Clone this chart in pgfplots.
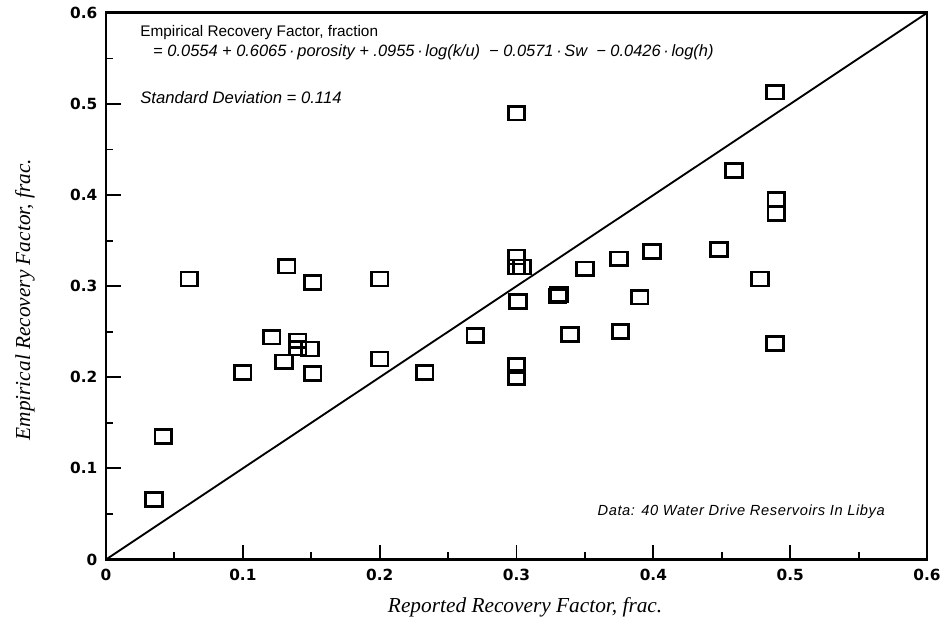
\documentclass[border=0pt]{standalone}
\usepackage{fontspec}
\setmainfont{Liberation Sans}
\newfontfamily\tickfont{DejaVu Sans}[BoldFont={DejaVu Sans Bold}]
\newfontfamily\labfont{Liberation Serif}
\usepackage{pgfplots}
\pgfplotsset{compat=1.18}
\begin{document}
\begin{tikzpicture}
\begin{axis}[
  at={(79.5pt,54.4pt)}, anchor=south west,
  scale only axis, width=615.75pt, height=409.9pt,
  xmin=0, xmax=0.6, ymin=0, ymax=0.6,
  xtick={0,0.1,...,0.6}, ytick={0,0.1,...,0.6},
  xtick pos=bottom, ytick pos=left,
  minor x tick num=1, minor y tick num=1,
  major tick length=11pt, minor tick length=5.5pt,
  tick style={line width=1.4pt, black},
  axis line style={line width=2.2pt},
  /pgf/number format/assume math mode=true,
  ticklabel style={font=\tickfont\bfseries\fontsize{11.5}{13}\selectfont},
  yticklabel style={xshift=-3pt},
  xticklabel style={yshift=-4pt},
  clip=false,
]
\addplot[black, line width=1.4pt] coordinates {(0,0) (0.6,0.6)};
\addplot[only marks, mark=square, mark size=5.2pt,
  mark options={line width=2pt, xscale=1.2, black}] coordinates {
(0.035,0.066) (0.042,0.135) (0.061,0.308) (0.100,0.205) (0.121,0.244)
(0.130,0.217) (0.132,0.322) (0.140,0.240) (0.140,0.232) (0.149,0.231)
(0.151,0.304) (0.151,0.204) (0.200,0.308) (0.200,0.220) (0.233,0.205)
(0.270,0.246) (0.300,0.490) (0.300,0.332) (0.300,0.321) (0.304,0.321)
(0.301,0.283) (0.300,0.213) (0.300,0.200) (0.330,0.289) (0.331,0.291)
(0.339,0.247) (0.350,0.319) (0.375,0.330) (0.376,0.250) (0.390,0.288)
(0.399,0.338) (0.448,0.340) (0.459,0.427) (0.478,0.308) (0.489,0.513)
(0.490,0.395) (0.490,0.380) (0.489,0.237)
};
\node[anchor=west, inner sep=0pt, font=\fontsize{11.5}{13}\selectfont] at (axis cs:0.0249,0.5786) {Empirical Recovery Factor, fraction};
\node[anchor=west, inner sep=0pt, font=\fontsize{12.3}{14}\selectfont] at (axis cs:0.0344,0.5566) {= \textit{0.0554 + 0.6065\,·\,porosity + .0955\,·\,log(k/u) \ −\ 0.0571\,·\,Sw \ −\ 0.0426\,·\,log(h)}};
\node[anchor=west, inner sep=0pt, font=\fontsize{12.5}{14}\selectfont\itshape] at (axis cs:0.0249,0.5071) {Standard Deviation = 0.114};
\node[anchor=east, inner sep=0pt, font=\fontsize{11}{13}\selectfont\itshape\addfontfeatures{LetterSpace=4}] at (axis cs:0.5694,0.0522) {Data: 40 Water Drive Reservoirs In Libya};
\node[inner sep=0pt, font=\labfont\itshape\fontsize{16}{19}\selectfont] at (axis cs:0.3063,-0.0522) {Reported Recovery Factor, frac.};
\node[inner sep=0pt, rotate=90, font=\labfont\itshape\fontsize{16}{19}\selectfont] at (axis cs:-0.0592,0.2852) {Empirical Recovery Factor, frac.};
\end{axis}
\pgfresetboundingbox
\useasboundingbox (0,0) rectangle (710.25pt,474pt);
\end{tikzpicture}
\end{document}
